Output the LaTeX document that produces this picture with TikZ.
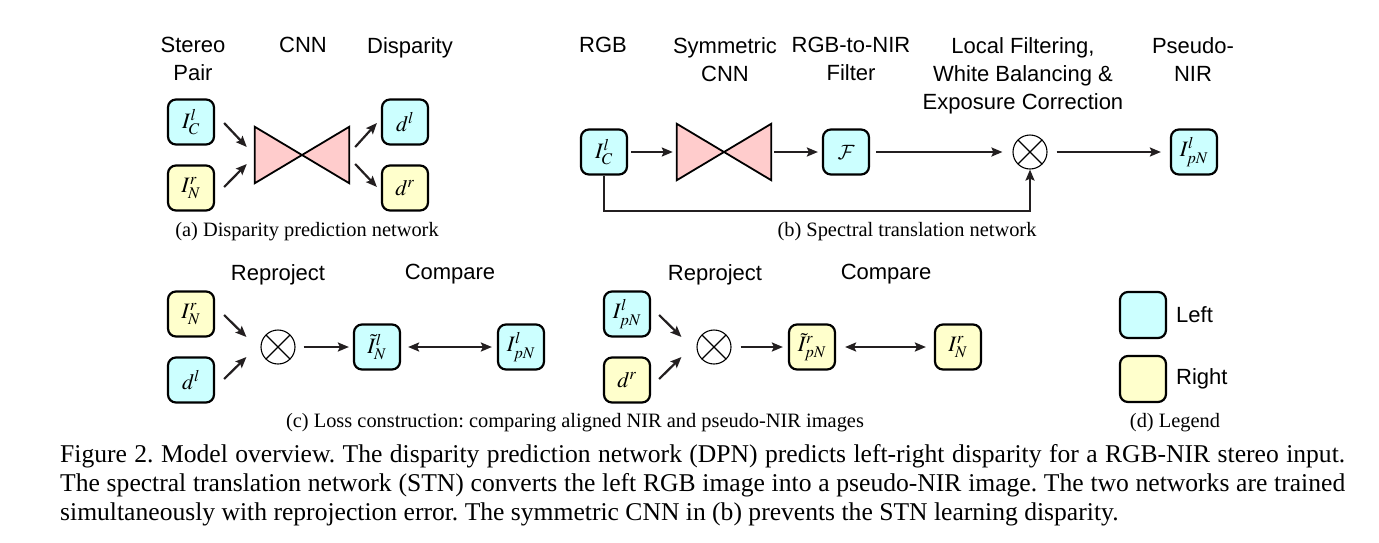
\documentclass[tikz,border=0pt]{standalone}
\usepackage{mathptmx}
\usepackage{fontspec}
\setmainfont{Liberation Serif}
\setsansfont{Liberation Sans}
\DeclareMathAlphabet{\mathcal}{OMS}{cmsy}{m}{n}
\usepackage{tikz}
\usetikzlibrary{arrows.meta,calc}
\definecolor{CL}{RGB}{204,255,255}
\definecolor{CR}{RGB}{255,255,204}
\definecolor{CP}{RGB}{255,204,204}
\definecolor{CA}{RGB}{35,31,32}
\frenchspacing

\begin{document}
\begin{tikzpicture}[x=1pt,y=-1pt]

    \tikzset{BX/.style={draw=black,line width=2.2pt,rounded corners=8pt,minimum width=46,minimum height=45,inner sep=0pt,font=\fontsize{22}{24}\selectfont}}
    \tikzset{BL/.style={BX,fill=CL}}
    \tikzset{BR/.style={BX,fill=CR}}
    \tikzset{BT/.style={inner sep=0pt,minimum width=94,minimum height=56}}
    \tikzset{BW/.style={draw=black,line width=1.8pt,fill=CP,line join=miter}}
    \tikzset{OT/.style={circle,draw=black,line width=1.1pt,minimum size=34,inner sep=0pt,path picture={\draw[line width=1.1pt] (path picture bounding box.north west) -- (path picture bounding box.south east) (path picture bounding box.south west) -- (path picture bounding box.north east);}}}
    \tikzset{AR/.style={draw=CA,line width=2.2pt,-{Stealth[length=11pt,width=9pt,inset=2pt]}}}
    \tikzset{AD/.style={draw=CA,line width=2.2pt,{Stealth[length=11pt,width=9pt,inset=2pt]}-{Stealth[length=11pt,width=9pt,inset=2pt]}}}
    \tikzset{LB/.style={inner sep=0pt,anchor=north,align=center,font=\sffamily\fontsize{22}{28}\selectfont}}
    \tikzset{SC/.style={inner sep=0pt,font=\fontsize{20.4}{24}\selectfont}}
    \tikzset{CT/.style={inner sep=0pt,anchor=base west,font=\fontsize{25.6}{29}\selectfont}}

    \useasboundingbox (0,0) rectangle (1379,542);

    % (a)
    \node (sp) [LB] at (193,37) {Stereo\\Pair};
    \node (cn) [LB] at (303,37) {CNN};
    \node (ds) [LB] at (410,37) {Disparity};
    \node (icl) [BL] at (191,122) {$I^l_C$};
    \node (inr) [BR] at (191,188) {$I^r_N$};
    \node (cnna) [BT] at (302,155) {};
    \node (dl) [BL] at (405,122) {$d^l$};
    \node (dr) [BR] at (405,188) {$d^r$};
    \node (ca) [SC] at (307,232) {(a) Disparity prediction network};
    \path[BW] (cnna.north west) -- (cnna.south west) -- (cnna.north east) -- (cnna.south east) -- cycle;
    \draw[AR] ($(icl.east)+(9,1)$) -- ($(cnna.west)+(-8,-8)$);
    \draw[AR] ($(inr.east)+(9,-1)$) -- ($(cnna.west)+(-8,9)$);
    \draw[AR] ($(cnna.east)+(6,-8)$) -- ($(dl.west)+(-4,1)$);
    \draw[AR] ($(cnna.east)+(6,9)$) -- ($(dr.west)+(-4,-1)$);

    % (b)
    \node (rg) [LB] at (603,37) {RGB};
    \node (sy) [LB] at (725,37) {Symmetric\\CNN};
    \node (rn) [LB] at (851,37) {RGB-to-NIR\\Filter};
    \node (lf) [LB] at (1023,37) {Local Filtering,\\White Balancing \&\\Exposure Correction};
    \node (pn) [LB] at (1193,37) {Pseudo-\\NIR};
    \node (icb) [BL] at (604,152) {$I^l_C$};
    \node (cnnb) [BT] at (724,152) {};
    \node (fb) [BL] at (846,152) {$\mathcal{F}$};
    \node (otb) [OT] at (1030,152) {};
    \node (ipb) [BL] at (1194,152) {$I^l_{pN}$};
    \node (cb) [SC] at (907,232) {(b) Spectral translation network};
    \path[BW] (cnnb.north west) -- (cnnb.south west) -- (cnnb.north east) -- (cnnb.south east) -- cycle;
    \draw[AR,shorten <=3pt,shorten >=4pt] (icb) -- (cnnb);
    \draw[AR,shorten <=3pt,shorten >=4pt] (cnnb) -- (fb);
    \draw[AR,shorten <=6pt,shorten >=10pt] (fb) -- (otb);
    \draw[AR,shorten <=9pt,shorten >=9pt] (otb) -- (ipb);
    \draw[AR] (icb.south) -- ++(0,35) -| (otb.south);

    % (c)
    \node (rp1) [LB] at (278,264) {Reproject};
    \node (cp1) [LB] at (450,264) {Compare};
    \node (inc) [BR] at (191,314) {$I^r_N$};
    \node (dlc) [BL] at (191,380) {$d^l$};
    \node (otc) [OT] at (278,347) {};
    \node (itc) [BL] at (377,347) {$\tilde{I}^l_N$};
    \node (ipc) [BL] at (521,347) {$I^l_{pN}$};
    \draw[AR] ($(inc.east)+(9,1)$) -- ($(otc.west)+(-14,-10)$);
    \draw[AR] ($(dlc.east)+(9,-1)$) -- ($(otc.west)+(-14,10)$);
    \draw[AR,shorten <=8pt,shorten >=4pt] (otc) -- (itc);
    \draw[AD,shorten <=7pt,shorten >=5pt] (itc) -- (ipc);

    \node (rp2) [LB] at (715,264) {Reproject};
    \node (cp2) [LB] at (886,264) {Compare};
    \node (ipd) [BL] at (627,314) {$I^l_{pN}$};
    \node (drd) [BR] at (627,380) {$d^r$};
    \node (otd) [OT] at (714,347) {};
    \node (itd) [BR] at (812,347) {$\tilde{I}^r_{pN}$};
    \node (ind) [BR] at (958,347) {$I^r_N$};
    \draw[AR] ($(ipd.east)+(8,1)$) -- ($(otd.west)+(-15,-10)$);
    \draw[AR] ($(drd.east)+(8,-1)$) -- ($(otd.west)+(-15,10)$);
    \draw[AR,shorten <=9pt,shorten >=5pt] (otd) -- (itd);
    \draw[AD,shorten <=9pt,shorten >=8pt] (itd) -- (ind);
    \node (cc) [SC] at (575,423) {(c) Loss construction: comparing aligned NIR and pseudo-NIR images};

    % (d)
    \node (lgl) [BL,minimum height=46] at (1143,315) {};
    \node (lgr) [BR,minimum height=46] at (1143,379) {};
    \node (tl) [LB,anchor=west] at (1176,315) {Left};
    \node (tr) [LB,anchor=west] at (1176,379) {Right};
    \node (cd) [SC] at (1175,423) {(d) Legend};

    \node (f1) [CT] at (60,462) {\makebox[1285pt][s]{Figure 2. Model overview. The disparity prediction network (DPN) predicts left-right disparity for a RGB-NIR stereo input.}};
    \node (f2) [CT] at (60,491) {\makebox[1285pt][s]{The spectral translation network (STN) converts the left RGB image into a pseudo-NIR image. The two networks are trained}};
    \node (f3) [CT] at (60,520) {simultaneously with reprojection error. The symmetric CNN in (b) prevents the STN learning disparity.};
\end{tikzpicture}
\end{document}
